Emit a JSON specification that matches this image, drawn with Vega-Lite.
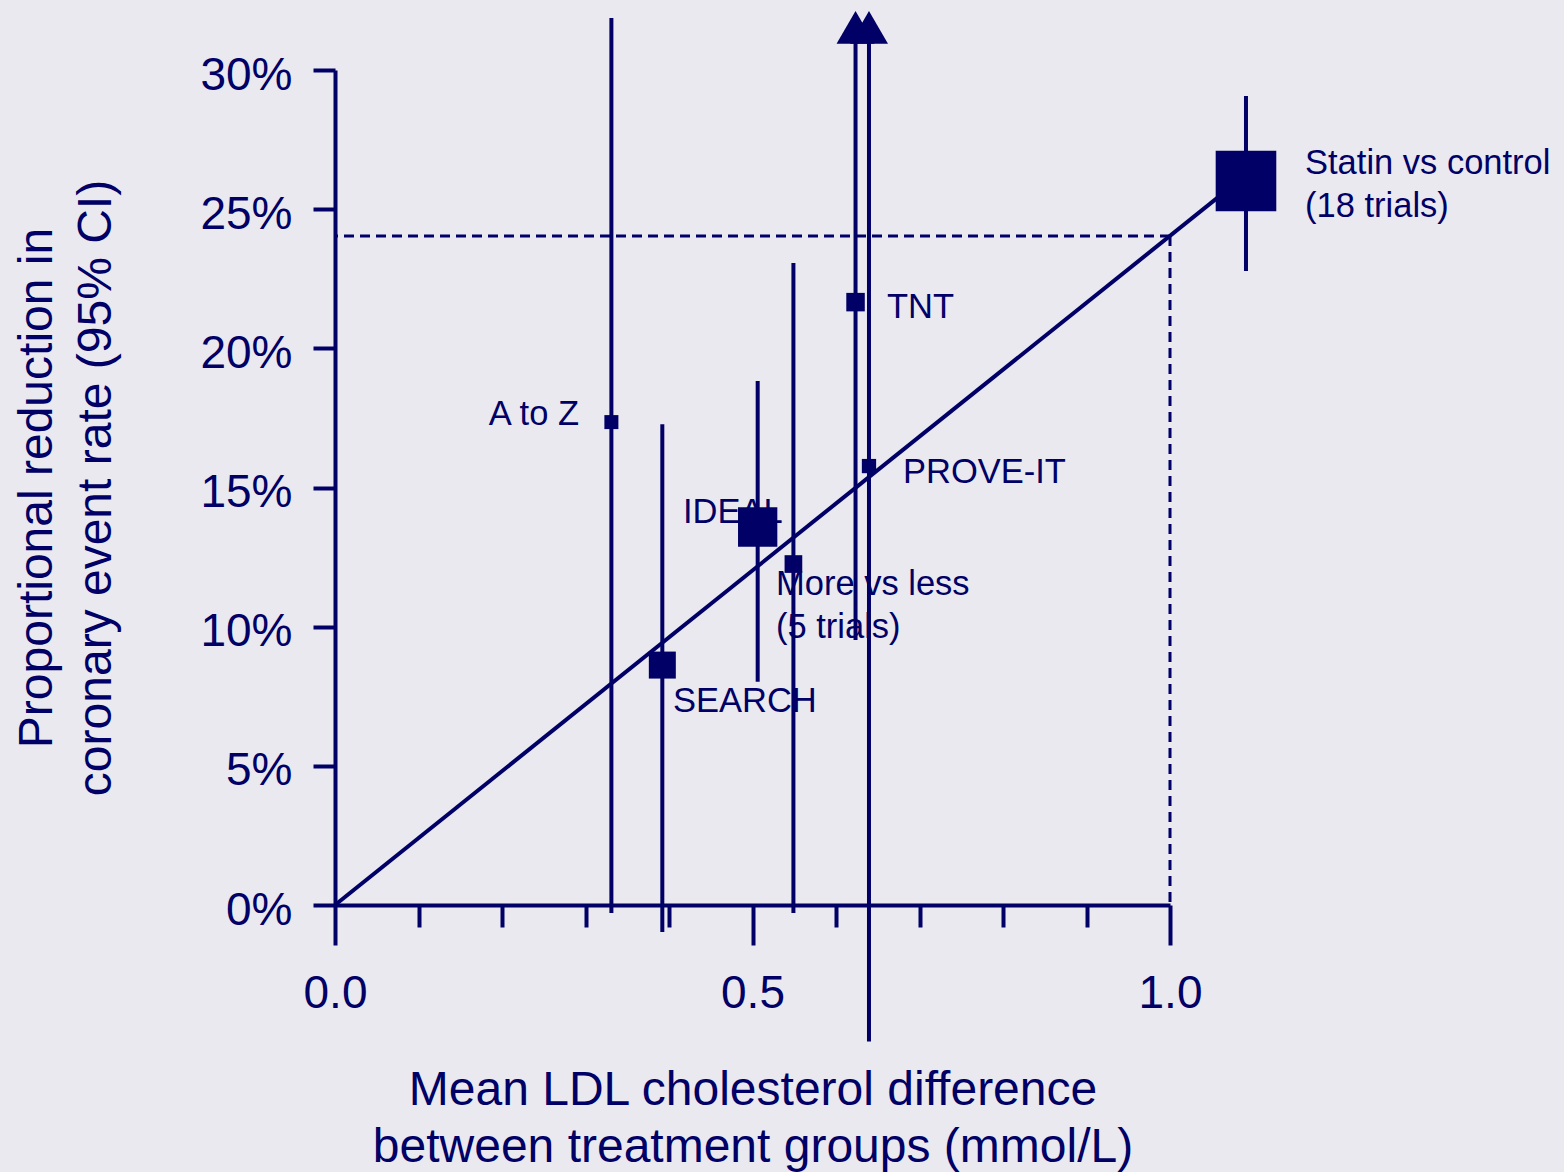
{
  "$schema": "https://vega.github.io/schema/vega-lite/v6.json",
  "width": 835,
  "height": 835,
  "autosize": {"type": "none"},
  "padding": {"left": 335, "top": 70, "right": 394, "bottom": 267},
  "background": "#eae9ef",
  "config": {
    "view": {"stroke": null},
    "font": "Liberation Sans",
    "axis": {
      "grid": false,
      "domainColor": "#000066",
      "domainWidth": 4,
      "tickColor": "#000066",
      "tickWidth": 4,
      "labelColor": "#000066",
      "titleColor": "#000066",
      "labelFont": "Liberation Sans",
      "titleFont": "Liberation Sans",
      "titleFontWeight": "normal",
      "labelFontSize": 46,
      "titleFontSize": 48
    }
  },
  "datasets": {
    "trials": [
      {"trial": "A to Z", "ldl": 0.331, "reduction": 17.35, "lo": -0.29, "hi": 31.87, "weight": 1.96, "arrow": false},
      {"trial": "SEARCH", "ldl": 0.392, "reduction": 8.62, "lo": -0.97, "hi": 17.27, "weight": 7.29, "arrow": false},
      {"trial": "IDEAL", "ldl": 0.5062, "reduction": 13.58, "lo": 8.02, "hi": 18.83, "weight": 15.45, "arrow": false},
      {"trial": "More vs less (5 trials)", "ldl": 0.549, "reduction": 12.25, "lo": -0.29, "hi": 23.07, "weight": 3.13, "arrow": false},
      {"trial": "TNT", "ldl": 0.6234, "reduction": 21.66, "lo": 9.52, "hi": 31.53, "weight": 3.42, "arrow": true},
      {"trial": "PROVE-IT", "ldl": 0.6395, "reduction": 15.77, "lo": -4.9, "hi": 31.53, "weight": 2.04, "arrow": true},
      {"trial": "Statin vs control (18 trials)", "ldl": 1.091, "reduction": 26.01, "lo": 22.78, "hi": 29.07, "weight": 36.72, "arrow": false}
    ],
    "fit": [
      {"ldl": 0, "reduction": 0},
      {"ldl": 1.091, "reduction": 26.23}
    ],
    "ref": [
      {"ldl": 1.0, "reduction": 24.04}
    ],
    "labels": [
      {"label": "A to Z", "lx": 0.2922, "ly": 17.25, "side": "right"},
      {"label": "SEARCH", "lx": 0.4048, "ly": 6.94, "side": "left"},
      {"label": "IDEAL", "lx": 0.4168, "ly": 13.71, "side": "left"},
      {"label": "More vs less\n(5 trials)", "lx": 0.5281, "ly": 11.14, "side": "left"},
      {"label": "TNT", "lx": 0.6611, "ly": 21.08, "side": "left"},
      {"label": "PROVE-IT", "lx": 0.6802, "ly": 15.15, "side": "left"},
      {"label": "Statin vs control\n(18 trials)", "lx": 1.1617, "ly": 26.25, "side": "left"}
    ]
  },
  "layer": [
    {
      "data": {"name": "ref"},
      "mark": {"type": "rule", "color": "#000066", "strokeWidth": 3, "strokeDash": [10, 6]},
      "encoding": {
        "x": {
          "field": "ldl", "type": "quantitative",
          "scale": {"domain": [0, 1], "nice": false, "zero": false},
          "axis": {
            "values": [0, 0.1, 0.2, 0.3, 0.4, 0.5, 0.6, 0.7, 0.8, 0.9, 1],
            "title": ["Mean LDL cholesterol difference", "between treatment groups (mmol/L)"],
            "labelExpr": "datum.value == 0 || datum.value == 0.5 || datum.value == 1 ? format(datum.value, '.1f') : ''",
            "tickSize": {"condition": {"test": "datum.value == 0 || datum.value == 0.5 || datum.value == 1", "value": 40}, "value": 22},
            "labelPadding": 26,
            "labelFlush": false,
            "labelOverlap": false,
            "labelBound": false,
            "titleLineHeight": 57,
            "titlePadding": 50
          }
        },
        "y": {
          "field": "reduction", "type": "quantitative",
          "scale": {"domain": [0, 30], "nice": false, "zero": false},
          "axis": {
            "values": [0, 5, 10, 15, 20, 25, 30],
            "labelExpr": "datum.value + '%'",
            "tickSize": 22,
            "labelPadding": 21,
            "labelOffset": 5,
            "labelFlush": false,
            "labelOverlap": false,
            "title": ["Proportional reduction in", "coronary event rate (95% CI)"],
            "titleLineHeight": 59,
            "titlePadding": 79
          }
        },
        "y2": {"datum": 0}
      }
    },
    {
      "data": {"name": "ref"},
      "mark": {"type": "rule", "color": "#000066", "strokeWidth": 3, "strokeDash": [10, 6]},
      "encoding": {
        "x": {"field": "ldl", "type": "quantitative", "scale": {"domain": [0, 1], "nice": false, "zero": false}},
        "x2": {"datum": 0},
        "y": {"field": "reduction", "type": "quantitative", "scale": {"domain": [0, 30], "nice": false, "zero": false}}
      }
    },
    {
      "data": {"name": "fit"},
      "mark": {"type": "line", "color": "#000066", "strokeWidth": 4},
      "encoding": {
        "x": {"field": "ldl", "type": "quantitative", "scale": {"domain": [0, 1], "nice": false, "zero": false}},
        "y": {"field": "reduction", "type": "quantitative", "scale": {"domain": [0, 30], "nice": false, "zero": false}}
      }
    },
    {
      "data": {"name": "trials"},
      "mark": {"type": "rule", "color": "#000066", "strokeWidth": 4},
      "encoding": {
        "x": {"field": "ldl", "type": "quantitative", "scale": {"domain": [0, 1], "nice": false, "zero": false}},
        "y": {"field": "lo", "type": "quantitative", "scale": {"domain": [0, 30], "nice": false, "zero": false}},
        "y2": {"field": "hi"}
      }
    },
    {
      "data": {"name": "trials"},
      "mark": {"type": "point", "shape": "square", "filled": true, "opacity": 1, "color": "#000066", "strokeWidth": 0},
      "encoding": {
        "x": {"field": "ldl", "type": "quantitative", "scale": {"domain": [0, 1], "nice": false, "zero": false}},
        "y": {"field": "reduction", "type": "quantitative", "scale": {"domain": [0, 30], "nice": false, "zero": false}},
        "size": {"field": "weight", "type": "quantitative", "scale": {"type": "linear", "domain": [0, 40], "range": [0, 4000], "zero": true}, "legend": null}
      }
    },
    {
      "data": {"name": "trials"},
      "transform": [{"filter": "datum.arrow"}],
      "mark": {"type": "point", "shape": "triangle-up", "filled": true, "opacity": 1, "color": "#000066", "strokeWidth": 0, "size": 1444},
      "encoding": {
        "x": {"field": "ldl", "type": "quantitative", "scale": {"domain": [0, 1], "nice": false, "zero": false}},
        "y": {"field": "hi", "type": "quantitative", "scale": {"domain": [0, 30], "nice": false, "zero": false}}
      }
    },
    {
      "data": {"name": "labels"},
      "transform": [{"filter": "datum.side == 'left'"}],
      "mark": {"type": "text", "align": "left", "baseline": "alphabetic", "fontSize": 34.5, "lineHeight": 43, "lineBreak": "\n", "color": "#000066", "font": "Liberation Sans"},
      "encoding": {
        "x": {"field": "lx", "type": "quantitative", "scale": {"domain": [0, 1], "nice": false, "zero": false}},
        "y": {"field": "ly", "type": "quantitative", "scale": {"domain": [0, 30], "nice": false, "zero": false}},
        "text": {"field": "label", "type": "nominal"}
      }
    },
    {
      "data": {"name": "labels"},
      "transform": [{"filter": "datum.side == 'right'"}],
      "mark": {"type": "text", "align": "right", "baseline": "alphabetic", "fontSize": 34.5, "lineHeight": 43, "lineBreak": "\n", "color": "#000066", "font": "Liberation Sans"},
      "encoding": {
        "x": {"field": "lx", "type": "quantitative", "scale": {"domain": [0, 1], "nice": false, "zero": false}},
        "y": {"field": "ly", "type": "quantitative", "scale": {"domain": [0, 30], "nice": false, "zero": false}},
        "text": {"field": "label", "type": "nominal"}
      }
    }
  ]
}
